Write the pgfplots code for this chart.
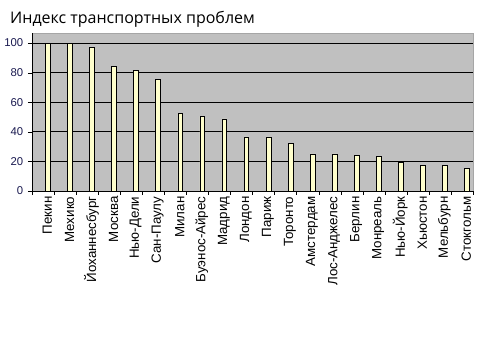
\documentclass[border=0pt]{standalone}
\usepackage{pgfplots}
\pgfplotsset{compat=1.18}
\usepackage{fontspec}
\setmainfont{Liberation Sans}
\newfontfamily\titlefont{Open Sans}
\definecolor{bgray}{HTML}{C0C0C0}
\definecolor{barfill}{HTML}{FFFFCC}
\definecolor{ytick}{HTML}{1A1A50}
\begin{document}
\begin{tikzpicture}
\useasboundingbox (0,0) rectangle (360pt,270pt);
\begin{axis}[
  at={(24pt,126.75pt)}, anchor=south west,
  width=330.75pt, height=118.5pt, scale only axis,
  xmin=-0.5, xmax=19.5, ymin=0, ymax=106.8,
  axis x line*=bottom, axis y line*=left,
  axis background/.style={fill=bgray, draw=gray!70},
  ytick={0,20,...,100},
  ymajorgrids, major grid style={black, line width=0.6pt},
  xtick={0.2,1.2,...,19.2},
  minor xtick={-0.5,0.5,...,19.5},
  xticklabels={Пекин,Мехико,Йоханнесбург,Москва,Нью-Дели,Сан-Паулу,Милан,Буэнос-Айрес,Мадрид,Лондон,Париж,Торонто,Амстердам,Лос-Анджелес,Берлин,Монреаль,Нью-Йорк,Хьюстон,Мельбурн,Стокгольм},
  x tick label style={rotate=90, anchor=east, font=\fontsize{10}{12}\selectfont, inner sep=1pt},
  y tick label style={font=\fontsize{8.5}{10}\selectfont, text=ytick},
  /pgf/number format/assume math mode=true,
  major x tick style={draw=none},
  minor x tick style={black},
  minor tick length=3pt,
  major tick length=3pt,
  tick align=outside,
  y tick style={black},
  axis line style={black, line width=0.5pt},
  title={\titlefont\fontsize{12}{14}\selectfont Индекс транспортных проблем},
  title style={at={(axis description cs:-0.05,1.0)}, anchor=base west, inner sep=0pt, yshift=1pt},
]
\addplot[ybar, bar width=3.6pt, bar shift=3.7pt, fill=barfill, draw=black, line width=0.5pt] coordinates {
(0,99.8) (1,99.8) (2,97.3) (3,84.1) (4,81.4) (5,75.6) (6,52.5) (7,50.4) (8,48.7) (9,36.5)
(10,36.5) (11,32.1) (12,25.1) (13,25.1) (14,24.2) (15,23.1) (16,19.5) (17,17.3) (18,17.3) (19,15.5)
};
\end{axis}
\end{tikzpicture}
\end{document}
